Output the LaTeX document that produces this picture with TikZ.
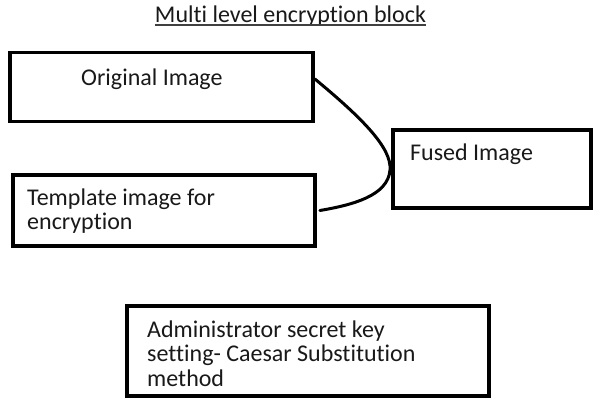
\documentclass[tikz,border=0pt]{standalone}
\usepackage{fontspec}
\setmainfont[Ligatures=NoCommon]{Carlito}
\begin{document}
\begin{tikzpicture}[x=1pt,y=-1pt,
  blk/.style={draw=black, line width=3.8pt, rectangle, inner sep=0pt, fill=white},
  lbl/.style={anchor=base west, inner sep=0pt, text=black!90, font=\fontsize{24}{24.5}\selectfont},
  link/.style={draw=black, line width=3pt, line cap=round}]
\useasboundingbox[fill=white] (0,0) rectangle (594,399);
% boxes
\node[blk, minimum width=303pt, minimum height=69pt] (orig) at (161.5,87) {};
\node[blk, minimum width=198pt, minimum height=78pt] (fused) at (492,169) {};
\node[blk, minimum width=302pt, minimum height=71pt] (tmpl) at (164,210.5) {};
\node[blk, minimum width=362pt, minimum height=90pt] (admin) at (308,351) {};
% title
\node[lbl, anchor=base] (title) at (290.5,22) {Multi level encryption block};
\draw[black!75, line width=1.2pt] ([yshift=-3pt]title.base west) -- ([yshift=-3pt]title.base east);
% labels
\node[lbl] (origtxt) at (81,85) {Original Image};
\node[lbl] (fusedtxt) at (410,160) {Fused Image};
\node[lbl] (tmpltxt) at (27,205) {\begin{tabular}[t]{@{}l@{}}Template image for\\encryption\end{tabular}};
\node[lbl] (admintxt) at (147,337) {\begin{tabular}[t]{@{}l@{}}Administrator secret key\\setting- Caesar Substitution\\method\end{tabular}};
% connector
\coordinate (touch) at (390,170);
\draw[link] ([yshift=8pt]orig.east) .. controls (362,118) and (392,148) .. (touch)
  .. controls (388,196) and (352,205) .. ([xshift=3pt]tmpl.east);
\end{tikzpicture}
\end{document}
